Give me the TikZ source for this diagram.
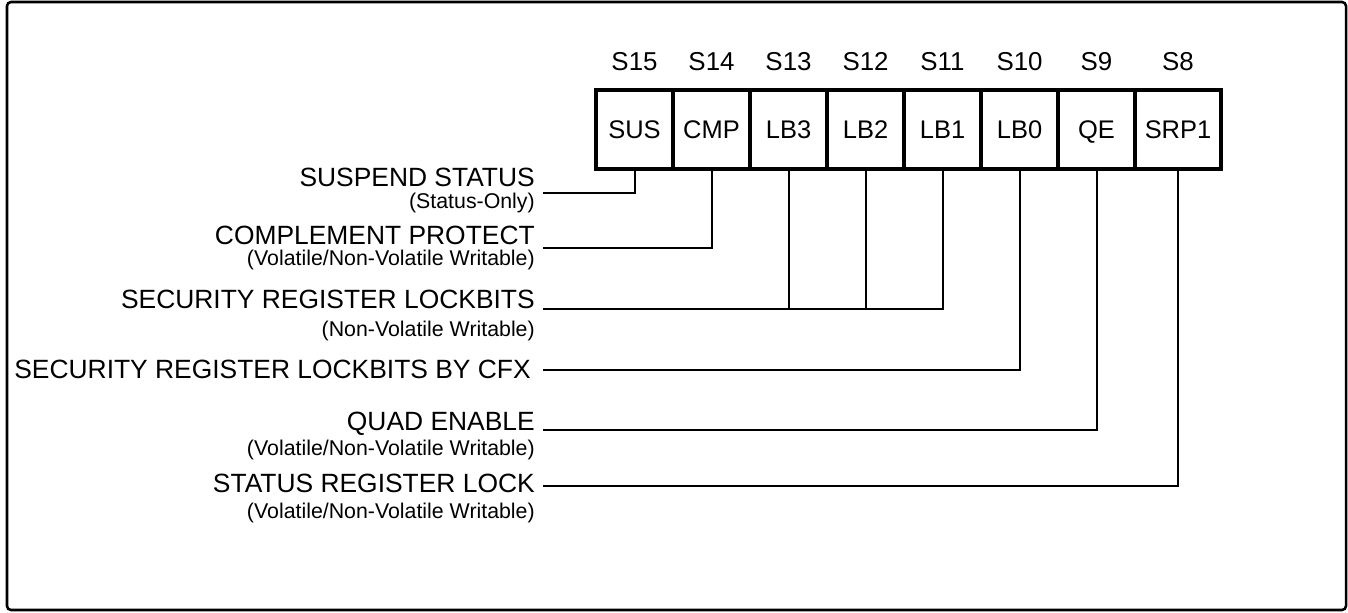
\documentclass[tikz,border=0pt]{standalone}
\usepackage{fontspec}
\setmainfont{Liberation Sans}
\usetikzlibrary{positioning}

\begin{document}
\begin{tikzpicture}[x=0.75pt, y=-0.75pt,
    frame/.style={line width=1.9pt, rounded corners=3pt},
    cell/.style={draw, line width=2.4pt, inner sep=0pt, outer sep=0pt,
        minimum width=57.75pt, minimum height=59.25pt,
        text height=13.6pt, text depth=0pt, font=\fontsize{19.1}{21}\selectfont},
    widecell/.style={cell, minimum width=64.5pt},
    bit_label/.style={anchor=base, inner sep=0pt, font=\fontsize{19.4}{21}\selectfont},
    desc/.style={anchor=base east, inner sep=0pt, font=\fontsize{19.8}{22}\selectfont},
    note/.style={anchor=base east, inner sep=0pt, font=\fontsize{16}{18}\selectfont},
    wire/.style={line width=1.5pt}
]
    \useasboundingbox (0,0) rectangle (1348,613);
    \draw[frame] (7,2) rectangle (1346,610);
    % Registo S15..S8
    \node[cell] (sus) at (634.5,129.5) {SUS};
    \node[cell, right=0pt of sus] (cmp) {CMP};
    \node[cell, right=0pt of cmp] (lbthree) {LB3};
    \node[cell, right=0pt of lbthree] (lbtwo) {LB2};
    \node[cell, right=0pt of lbtwo] (lbone) {LB1};
    \node[cell, right=0pt of lbone] (lbzero) {LB0};
    \node[cell, right=0pt of lbzero] (qe) {QE};
    \node[widecell, right=0pt of qe] (srp) {SRP1};
    % Numeros dos bits
    \foreach \c/\s in {sus/S15, cmp/S14, lbthree/S13, lbtwo/S12, lbone/S11, lbzero/S10, qe/S9, srp/S8}
        \node[bit_label] (\c-bit) at (\c.center |- 0,70.7) {\s};
    % Descricoes
    \node[desc] (susdesc) at (535,186) {SUSPEND STATUS};
    \node[note] (susnote) at (535,208) {(Status-Only)};
    \node[desc] (cmpdesc) at (535,244) {COMPLEMENT PROTECT};
    \node[note] (cmpnote) at (535,265) {(Volatile/Non-Volatile Writable)};
    \node[desc] (lbdesc) at (535,308) {SECURITY REGISTER LOCKBITS};
    \node[note] (lbnote) at (535,336) {(Non-Volatile Writable)};
    \node[desc] (cfxdesc) at (531,378) {SECURITY REGISTER LOCKBITS BY CFX};
    \node[desc] (qedesc) at (535,430) {QUAD ENABLE};
    \node[note] (qenote) at (535,455) {(Volatile/Non-Volatile Writable)};
    \node[desc] (srpdesc) at (535,492) {STATUS REGISTER LOCK};
    \node[note] (srpnote) at (535,518) {(Volatile/Non-Volatile Writable)};
    % Ligacoes
    \coordinate (susend) at (543,193);
    \coordinate (cmpend) at (543,248);
    \coordinate (lbend) at (543,309);
    \coordinate (cfxend) at (543,370);
    \coordinate (qeend) at (543,430);
    \coordinate (srpend) at (543,486);
    \draw[wire] (sus.south) |- (susend);
    \draw[wire] (cmp.south) |- (cmpend);
    \draw[wire] (lbone.south) |- (lbend);
    \draw[wire] (lbtwo.south) -- (lbtwo.south |- lbend);
    \draw[wire] (lbthree.south) -- (lbthree.south |- lbend);
    \draw[wire] (lbzero.south) |- (cfxend);
    \draw[wire] (qe.south) |- (qeend);
    \draw[wire] (srp.south) |- (srpend);
\end{tikzpicture}
\end{document}
